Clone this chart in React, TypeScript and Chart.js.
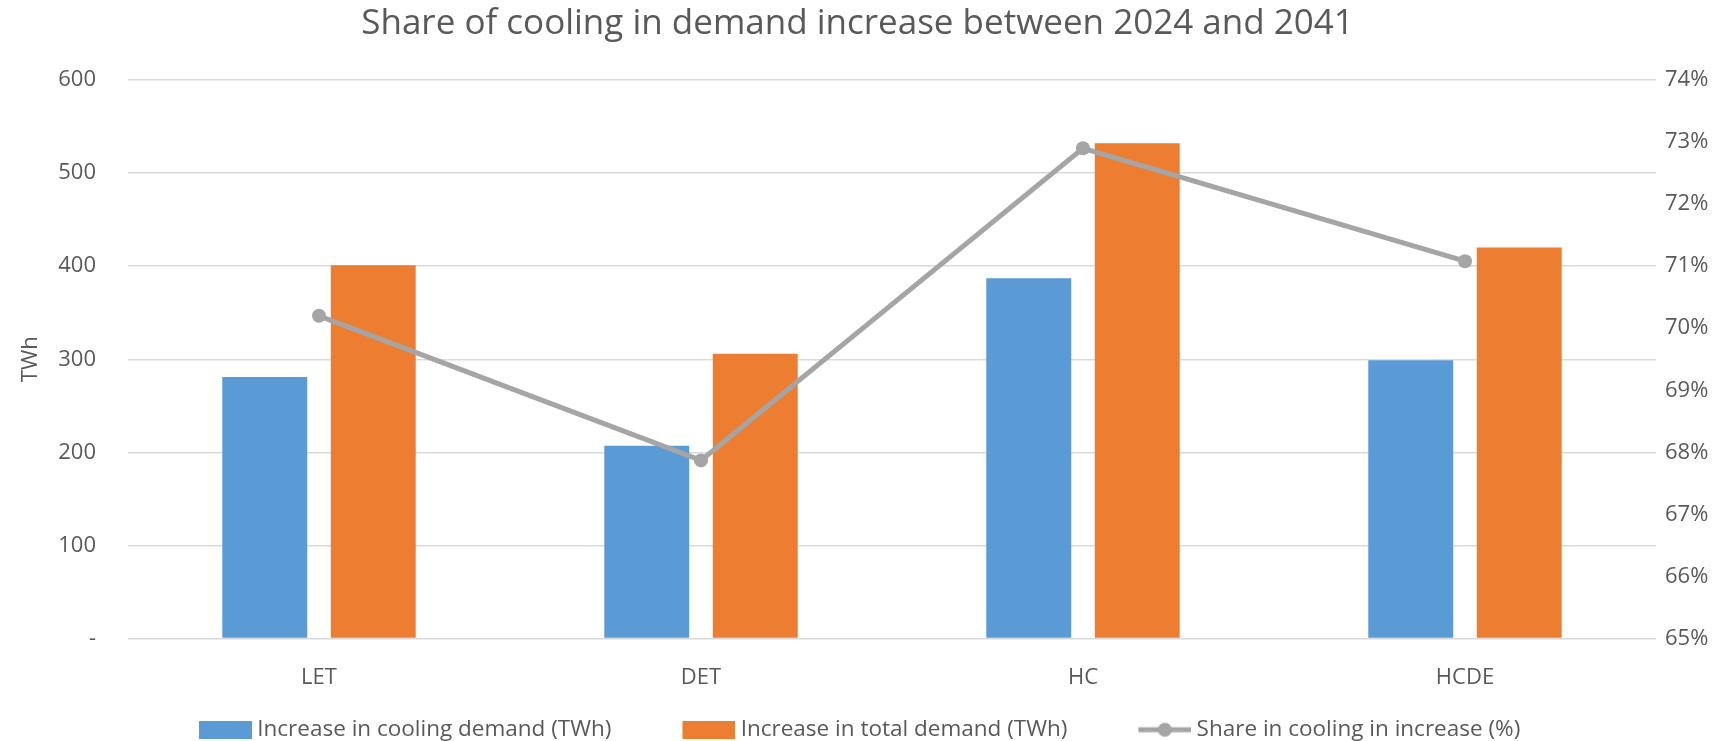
import React, { useEffect, useRef } from "react";
import { Chart, registerables } from "chart.js";

Chart.register(...registerables);

const categories = ["LET", "DET", "HC", "HCDE"];
const coolingIncrease = [281, 207, 387, 299];
const totalIncrease = [401, 306, 532, 420];
const coolingShare = [70.2, 67.87, 72.9, 71.08];
const seriesNames = [
  "Increase in cooling demand (TWh)",
  "Increase in total demand (TWh)",
  "Share in cooling in increase (%)",
];
const titleText = "Share of cooling in demand increase between 2024 and 2041";
const leftAxisTitle = "TWh";

const FONT = "'Open Sans', 'Noto Sans', sans-serif";
const TEXT = "#595959";
const BLUE = "#5B9BD5";
const ORANGE = "#ED7D31";
const GRAY = "#A5A5A5";
const GRID = "#D9D9D9";

const E = 48; // extra leading space in each legend item

function makeBoxImage(color: string) {
  const c = document.createElement("canvas");
  c.width = 59 + E;
  c.height = 18;
  const ctx = c.getContext("2d")!;
  ctx.fillStyle = color;
  ctx.fillRect(E + 6, 0, 53, 18);
  return c;
}

function makeLineImage(color: string) {
  const c = document.createElement("canvas");
  c.width = 59 + E;
  c.height = 18;
  const ctx = c.getContext("2d")!;
  ctx.strokeStyle = color;
  ctx.lineWidth = 5;
  ctx.beginPath();
  ctx.moveTo(E + 6, 9);
  ctx.lineTo(E + 59, 9);
  ctx.stroke();
  ctx.fillStyle = color;
  ctx.beginPath();
  ctx.arc(E + 32.5, 9, 7, 0, Math.PI * 2);
  ctx.fill();
  return c;
}

export default function App() {
  const ref = useRef<HTMLCanvasElement | null>(null);

  useEffect(() => {
    if (!ref.current) return;
    const images = [makeBoxImage(BLUE), makeBoxImage(ORANGE), makeLineImage(GRAY)];
    const colors = [BLUE, ORANGE, GRAY];
    const chart = new Chart(ref.current, {
      type: "bar",
      data: {
        labels: categories,
        datasets: [
          {
            type: "bar",
            label: seriesNames[0],
            data: coolingIncrease,
            backgroundColor: BLUE,
            yAxisID: "y",
            order: 1,
            categoryPercentage: 0.568,
            barPercentage: 0.783,
          },
          {
            type: "bar",
            label: seriesNames[1],
            data: totalIncrease,
            backgroundColor: ORANGE,
            yAxisID: "y",
            order: 2,
            categoryPercentage: 0.568,
            barPercentage: 0.783,
          },
          {
            type: "line",
            label: seriesNames[2],
            data: coolingShare,
            borderColor: GRAY,
            backgroundColor: GRAY,
            borderWidth: 5,
            pointRadius: 7,
            pointBorderWidth: 0,
            pointBackgroundColor: GRAY,
            yAxisID: "y1",
            order: 0,
            tension: 0,
          },
        ],
      },
      options: {
        animation: false,
        responsive: false,
        maintainAspectRatio: false,
        layout: { padding: { left: -20, right: 0, top: 0, bottom: -10 } },
        plugins: {
          tooltip: { enabled: false },
          title: {
            display: true,
            text: titleText,
            color: TEXT,
            font: { family: FONT, size: 35, weight: "normal" },
            padding: { top: 3, bottom: 35 },
          },
          legend: {
            position: "bottom",
            fullSize: false,
            align: "start",
            labels: {
              usePointStyle: true,
              pointStyleWidth: 47 + E,
              boxHeight: 18,
              padding: 23,
              color: TEXT,
              font: { family: FONT, size: 22.5 },
              generateLabels: () =>
                seriesNames.map((t, i) => ({
                  text: t,
                  fillStyle: colors[i],
                  strokeStyle: colors[i],
                  lineWidth: 0,
                  pointStyle: images[i] as any,
                  hidden: false,
                  datasetIndex: i,
                  fontColor: TEXT,
                })),
            },
          },
        },
        scales: {
          x: {
            grid: { display: false, drawTicks: false },
            border: { display: false },
            ticks: { color: TEXT, font: { family: FONT, size: 22 }, padding: 26.5 },
            afterFit: (s: any) => {
              s.height = 57;
            },
          },
          y: {
            position: "left",
            min: 0,
            max: 600,
            ticks: {
              stepSize: 100,
              color: TEXT,
              font: { family: FONT, size: 22 },
              padding: 32,
              callback: (v: any) => (Number(v) === 0 ? "-" : String(v)),
            },
            grid: { color: GRID, lineWidth: 1.5, drawTicks: false },
            border: { display: false },
            title: {
              display: true,
              text: leftAxisTitle,
              color: TEXT,
              font: { family: FONT, size: 22 },
              padding: { top: 37.8, bottom: 0 },
            },
            afterFit: (s: any) => {
              s.width = 148;
            },
          },
          y1: {
            position: "right",
            min: 65,
            max: 74,
            ticks: {
              stepSize: 1,
              color: TEXT,
              font: { family: FONT, size: 22 },
              padding: 9,
              callback: (v: any) => Math.round(Number(v)) + "%",
            },
            grid: { display: false, drawTicks: false },
            border: { display: false },
            afterFit: (s: any) => {
              s.width = 79;
            },
          },
        },
      },
    } as any);
    return () => chart.destroy();
  }, []);

  return (
    <div style={{ position: "fixed", left: 0, top: 0, width: 1735, height: 741, background: "#fff" }}>
      <canvas ref={ref} width={1735} height={741} style={{ display: "block", width: 1735, height: 741 }} />
    </div>
  );
}
